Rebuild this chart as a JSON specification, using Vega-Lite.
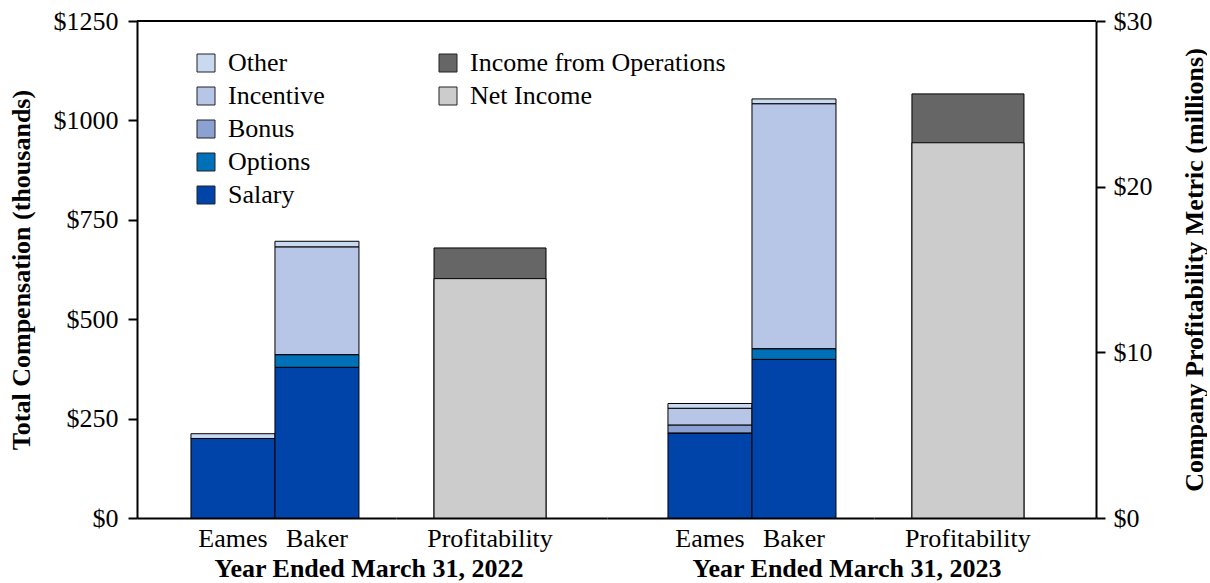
{
  "$schema": "https://vega.github.io/schema/vega-lite/v6.json",
  "padding": {"left": 8, "top": 8, "right": 0, "bottom": 0},
  "bounds": "flush",
  "spacing": 0,
  "datasets": {
    "comp": [
      {"year": "2022", "person": "Eames", "component": "Salary", "value": 200},
      {"year": "2022", "person": "Eames", "component": "Options", "value": 0},
      {"year": "2022", "person": "Eames", "component": "Bonus", "value": 0},
      {"year": "2022", "person": "Eames", "component": "Incentive", "value": 0},
      {"year": "2022", "person": "Eames", "component": "Other", "value": 12},
      {"year": "2022", "person": "Baker", "component": "Salary", "value": 379},
      {"year": "2022", "person": "Baker", "component": "Options", "value": 32},
      {"year": "2022", "person": "Baker", "component": "Bonus", "value": 0},
      {"year": "2022", "person": "Baker", "component": "Incentive", "value": 271},
      {"year": "2022", "person": "Baker", "component": "Other", "value": 14},
      {"year": "2023", "person": "Eames", "component": "Salary", "value": 214},
      {"year": "2023", "person": "Eames", "component": "Options", "value": 0},
      {"year": "2023", "person": "Eames", "component": "Bonus", "value": 20},
      {"year": "2023", "person": "Eames", "component": "Incentive", "value": 42},
      {"year": "2023", "person": "Eames", "component": "Other", "value": 12},
      {"year": "2023", "person": "Baker", "component": "Salary", "value": 399},
      {"year": "2023", "person": "Baker", "component": "Options", "value": 27},
      {"year": "2023", "person": "Baker", "component": "Bonus", "value": 0},
      {"year": "2023", "person": "Baker", "component": "Incentive", "value": 616},
      {"year": "2023", "person": "Baker", "component": "Other", "value": 12}
    ],
    "profit": [
      {"year": "2022", "group": "Profitability", "metric": "Income from Operations", "value": 16.3},
      {"year": "2022", "group": "Profitability", "metric": "Net Income", "value": 14.45},
      {"year": "2023", "group": "Profitability", "metric": "Income from Operations", "value": 25.6},
      {"year": "2023", "group": "Profitability", "metric": "Net Income", "value": 22.65}
    ]
  },
  "resolve": {"scale": {"fill": "independent", "y": "independent", "x": "independent"}},
  "hconcat": [
    {
      "width": 259,
      "height": 497,
      "data": {"name": "comp"},
      "transform": [
        {"filter": "datum.year == '2022'"},
        {"calculate": "indexof(['Salary','Options','Bonus','Incentive','Other'], datum.component)", "as": "stackOrder"}
      ],
      "layer": [
        {
          "mark": {"type": "bar", "stroke": "black", "strokeWidth": 1},
          "encoding": {
            "x": {
              "field": "person", "type": "nominal", "sort": ["Eames", "Baker"],
              "scale": {"domain": ["Eames", "Baker"], "paddingInner": 0, "paddingOuter": 0.5417, "align": 0.593},
              "axis": {"orient": "bottom", "ticks": false, "labelAngle": 0, "labelFontSize": 26, "labelPadding": 7, "domainWidth": 2, "domainColor": "black",
                       "title": "Year Ended March 31, 2022", "titleX": 231.5, "titleFontSize": 26, "titleFontWeight": "bold", "titlePadding": 4}
            },
            "y": {
              "field": "value", "type": "quantitative", "stack": "zero",
              "scale": {"domain": [0, 1250], "nice": false},
              "axis": {"orient": "left", "values": [0, 250, 500, 750, 1000, 1250], "labelExpr": "'$' + datum.value", "grid": false,
                       "tickSize": 9, "tickWidth": 2, "tickColor": "black", "domainWidth": 2, "domainColor": "black",
                       "labelFontSize": 26, "labelPadding": 10, "title": "Total Compensation (thousands)", "titleFontSize": 26, "titleFontWeight": "bold", "titlePadding": 19}
            },
            "fill": {
              "field": "component", "type": "nominal",
              "sort": ["Other", "Incentive", "Bonus", "Options", "Salary"],
              "scale": {"domain": ["Other", "Incentive", "Bonus", "Options", "Salary"], "range": ["#C9D9F0", "#B7C5E6", "#8BA1D2", "#0070B8", "#0044AA"]},
              "legend": {"orient": "none", "legendX": 56, "legendY": 29, "title": null, "symbolType": "square", "symbolSize": 324,
                         "symbolStrokeColor": "#222222", "symbolStrokeWidth": 1, "labelFontSize": 26, "labelOffset": 9, "rowPadding": 7, "labelColor": "black"}
            },
            "order": {"field": "stackOrder", "type": "quantitative", "sort": "ascending"}
          }
        },
        {
          "mark": {"type": "rule", "color": "black", "strokeWidth": 2},
          "encoding": {"y": {"datum": 1250}}
        }
      ]
    },
    {
      "width": 211,
      "height": 497,
      "data": {"name": "profit"},
      "transform": [{"filter": "datum.year == '2022'"}],
      "layer": [
        {
          "mark": {"type": "bar", "stroke": "black", "strokeWidth": 1},
          "encoding": {
            "x": {
              "field": "group", "type": "nominal",
              "scale": {"domain": ["Profitability"], "paddingInner": 0, "paddingOuter": 0.442, "align": 0.384},
              "axis": {"orient": "bottom", "ticks": false, "labelAngle": 0, "labelFontSize": 26, "labelPadding": 7, "domainWidth": 2, "domainColor": "black", "title": null}
            },
            "y": {"field": "value", "type": "quantitative", "stack": null, "scale": {"domain": [0, 30], "nice": false}, "axis": null},
            "fill": {
              "field": "metric", "type": "nominal",
              "scale": {"domain": ["Income from Operations", "Net Income"], "range": ["#666666", "#CCCCCC"]},
              "legend": {"orient": "none", "legendX": 39, "legendY": 29, "title": null, "symbolType": "square", "symbolSize": 324,
                         "symbolStrokeColor": "#222222", "symbolStrokeWidth": 1, "labelFontSize": 26, "labelOffset": 9, "rowPadding": 7, "labelColor": "black", "labelLimit": 400}
            }
          }
        },
        {
          "mark": {"type": "rule", "color": "black", "strokeWidth": 2},
          "encoding": {"y": {"datum": 30}}
        }
      ]
    },
    {
      "width": 267,
      "height": 497,
      "data": {"name": "comp"},
      "transform": [
        {"filter": "datum.year == '2023'"},
        {"calculate": "indexof(['Salary','Options','Bonus','Incentive','Other'], datum.component)", "as": "stackOrder"}
      ],
      "layer": [
        {
          "mark": {"type": "bar", "stroke": "black", "strokeWidth": 1},
          "encoding": {
            "x": {
              "field": "person", "type": "nominal", "sort": ["Eames", "Baker"],
              "scale": {"domain": ["Eames", "Baker"], "paddingInner": 0, "paddingOuter": 0.589, "align": 0.616},
              "axis": {"orient": "bottom", "ticks": false, "labelAngle": 0, "labelFontSize": 26, "labelPadding": 7, "domainWidth": 2, "domainColor": "black",
                       "title": "Year Ended March 31, 2023", "titleX": 239.5, "titleFontSize": 26, "titleFontWeight": "bold", "titlePadding": 4}
            },
            "y": {"field": "value", "type": "quantitative", "stack": "zero", "scale": {"domain": [0, 1250], "nice": false}, "axis": null},
            "fill": {
              "field": "component", "type": "nominal",
              "sort": ["Other", "Incentive", "Bonus", "Options", "Salary"],
              "scale": {"domain": ["Other", "Incentive", "Bonus", "Options", "Salary"], "range": ["#C9D9F0", "#B7C5E6", "#8BA1D2", "#0070B8", "#0044AA"]},
              "legend": null
            },
            "order": {"field": "stackOrder", "type": "quantitative", "sort": "ascending"}
          }
        },
        {
          "mark": {"type": "rule", "color": "black", "strokeWidth": 2},
          "encoding": {"y": {"datum": 1250}}
        }
      ]
    },
    {
      "width": 222,
      "height": 497,
      "data": {"name": "profit"},
      "transform": [{"filter": "datum.year == '2023'"}],
      "layer": [
        {
          "mark": {"type": "bar", "stroke": "black", "strokeWidth": 1},
          "encoding": {
            "x": {
              "field": "group", "type": "nominal",
              "scale": {"domain": ["Profitability"], "paddingInner": 0, "paddingOuter": 0.491, "align": 0.345},
              "axis": {"orient": "bottom", "ticks": false, "labelAngle": 0, "labelFontSize": 26, "labelPadding": 7, "domainWidth": 2, "domainColor": "black", "title": null}
            },
            "y": {
              "field": "value", "type": "quantitative", "stack": null, "scale": {"domain": [0, 30], "nice": false},
              "axis": {"orient": "right", "values": [0, 10, 20, 30], "labelExpr": "'$' + datum.value", "grid": false,
                       "tickSize": 9, "tickWidth": 2, "tickColor": "black", "domainWidth": 2, "domainColor": "black",
                       "labelFontSize": 26, "labelPadding": 8, "title": "Company Profitability Metric (millions)", "titleFontSize": 26, "titleFontWeight": "bold", "titlePadding": 55, "titleAngle": 270}
            },
            "fill": {
              "field": "metric", "type": "nominal",
              "scale": {"domain": ["Income from Operations", "Net Income"], "range": ["#666666", "#CCCCCC"]},
              "legend": null
            }
          }
        },
        {
          "mark": {"type": "rule", "color": "black", "strokeWidth": 2},
          "encoding": {"y": {"datum": 30}}
        }
      ]
    }
  ],
  "config": {
    "view": {"stroke": null},
    "font": "Liberation Serif",
    "axis": {"labelFont": "Liberation Serif", "titleFont": "Liberation Serif", "labelColor": "black", "titleColor": "black"},
    "legend": {"labelFont": "Liberation Serif", "labelColor": "black"}
  }
}
